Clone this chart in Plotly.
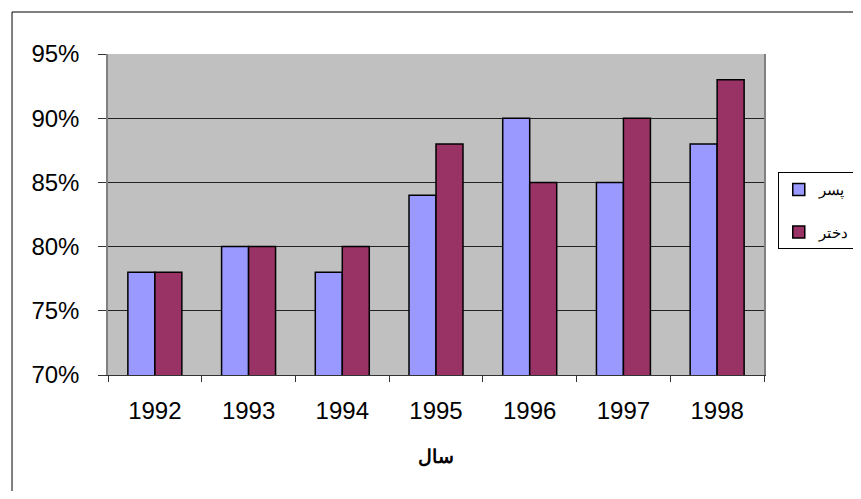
import plotly.graph_objects as go

years = ["1992", "1993", "1994", "1995", "1996", "1997", "1998"]
boys = [78, 80, 78, 84, 90, 85, 88]
girls = [78, 80, 80, 88, 85, 90, 93]
series_names = ["پسر", "دختر"]
y_ticks = [70, 75, 80, 85, 90, 95]
y_tick_labels = ["70%", "75%", "80%", "85%", "90%", "95%"]

FONT = "Liberation Sans, Arial, sans-serif"

fig = go.Figure()
fig.add_trace(go.Bar(x=years, y=boys, name=series_names[0], legendgroup="a",
                     marker=dict(color="#9999FF", line=dict(color="black", width=1.5))))
fig.add_trace(go.Bar(x=years, y=girls, name=series_names[1], legendgroup="b",
                     marker=dict(color="#993366", line=dict(color="black", width=1.5))))

fig.update_layout(
    width=853, height=483,
    margin=dict(l=100, r=97, t=46, b=116, autoexpand=False),
    paper_bgcolor="white",
    plot_bgcolor="#C0C0C0",
    barmode="group", bargap=0.424, bargroupgap=0,
    font=dict(family=FONT, size=24, color="black"),
    showlegend=True,
    legend=dict(x=1.021, y=0.632, xanchor="left", yanchor="top",
                bordercolor="black", borderwidth=1, bgcolor="white",
                font=dict(size=15, family=FONT), itemwidth=30,
                tracegroupgap=20),
    xaxis=dict(type="category", showline=True, linecolor="#333333", linewidth=1,
               ticks="outside", tickson="boundaries", ticklen=6, tickcolor="#333333",
               showgrid=False, ticklabelstandoff=14, automargin=False,
               title=dict(text="<b>سال</b>", font=dict(size=19, family=FONT), standoff=26)),
    yaxis=dict(range=[70, 95], tickvals=y_ticks, ticktext=y_tick_labels,
               showline=True, linecolor="#808080", linewidth=1.5, mirror=True,
               ticks="outside", ticklen=8, tickcolor="#333333",
               showgrid=True, gridcolor="#222222", gridwidth=1, zeroline=False,
               ticklabelstandoff=14, automargin=False),
    shapes=[dict(type="rect", xref="paper", yref="paper",
                 x0=-0.1463, y0=-0.6, x1=1.6, y1=1.1308,
                 line=dict(color="black", width=1), fillcolor="rgba(0,0,0,0)",
                 layer="below")],
)

fig.write_html("out.html")
